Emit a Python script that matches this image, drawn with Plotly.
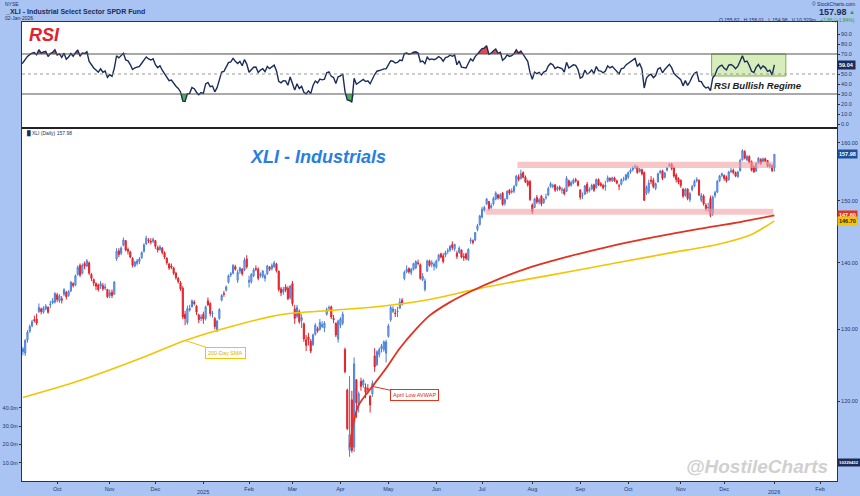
import numpy as np
import pandas as pd
import plotly.graph_objects as go

# ---------------- trading calendar ----------------
holidays = ["2024-09-02", "2024-11-28", "2024-12-25", "2025-01-01", "2025-01-09", "2025-01-20",
            "2025-02-17", "2025-04-18", "2025-05-26", "2025-06-19", "2025-07-04", "2025-09-01",
            "2025-11-27", "2025-12-25", "2026-01-01", "2026-01-19", "2026-02-16"]
cal = pd.bdate_range("2024-08-12", "2026-02-27")
cal = cal[~cal.isin(pd.to_datetime(holidays))]
dates = [d.strftime("%Y-%m-%d") for d in cal]
first_visible = "2024-09-10"
pos0 = dates.index(first_visible)
xpos = {d: i - pos0 for i, d in enumerate(dates)}

# ---------------- daily OHLC (Aug-12-2024 .. Jan-02-2026) ----------------
opens = [
    121.8,122.9,124.8,126.2,127.0,127.4,128.1,127.9,128.6,127.9,129.6,129.1,129.3,129.0,129.7,129.8,127.0,127.2,126.6,125.4,
    126.8,126.6,128.5,129.7,130.5,131.4,131.5,132.6,133.0,132.5,133.0,133.2,133.6,133.9,134.0,
    135.1,134.2,134.5,135.2,135.5,135.0,135.7,136.8,136.6,138.2,139.6,138.4,139.9,139.5,140.0,138.2,137.4,136.8,136.6,136.4,136.5,136.1,135.9,
    135.0,135.5,135.2,140.6,141.9,141.5,142.8,143.5,142.1,141.7,140.7,139.5,139.9,140.2,140.8,141.8,143.0,143.6,143.4,143.4,
    143.5,142.4,142.1,142.3,141.6,140.7,139.8,139.5,139.2,138.4,137.6,136.9,136.1,132.2,131.0,132.8,133.3,134.0,133.4,132.1,131.6,
    132.2,131.6,134.2,133.8,132.3,131.6,129.9,131.6,134.3,135.3,135.8,137.0,138.1,138.4,139.4,137.3,138.7,139.0,138.9,140.6,
    137.0,137.1,138.0,139.1,139.0,138.0,137.9,137.6,138.3,139.3,139.1,139.4,139.8,138.7,136.0,135.5,136.3,136.1,134.7,
    136.8,133.0,131.9,132.6,131.3,130.8,128.5,128.9,128.3,127.8,129.3,130.1,130.0,130.4,130.2,132.2,133.1,133.3,131.6,130.9,128.6,
    130.6,130.9,127.1,121.5,113.6,120.2,114.0,122.9,119.6,122.7,122.2,121.9,121.7,120.7,121.0,126.2,125.0,126.4,127.2,127.1,126.6,
    129.0,131.4,132.6,132.4,132.6,133.1,134.3,137.6,138.6,139.1,138.5,139.0,139.2,140.0,139.7,137.4,135.9,138.7,140.3,139.8,139.5,
    139.3,140.4,141.4,141.1,141.2,141.8,142.0,142.9,142.2,141.5,141.6,142.0,141.0,141.4,140.5,143.5,143.5,143.6,145.3,146.1,
    147.3,148.5,149.5,149.9,148.9,149.5,150.3,151.0,150.4,151.3,149.6,150.4,151.8,151.5,151.6,152.6,154.1,153.8,154.8,154.0,153.3,153.3,
    149.3,148.9,150.6,149.8,150.8,149.7,150.6,151.0,152.4,152.4,152.7,151.9,152.3,151.8,151.9,151.6,153.4,152.6,153.0,153.6,153.3,
    151.8,150.9,151.1,152.8,151.7,152.0,152.7,152.2,153.6,152.9,152.6,152.4,153.3,153.8,153.4,153.9,153.4,152.5,152.8,153.7,153.6,
    154.0,154.9,155.3,155.7,155.8,155.0,155.3,154.8,151.3,151.6,153.5,153.5,152.1,153.2,154.8,155.1,154.0,155.2,156.0,156.3,155.6,154.4,153.8,
    153.5,152.0,150.9,152.0,150.2,151.9,152.5,153.4,153.5,150.1,150.8,149.3,148.9,150.4,147.9,150.9,151.5,153.4,154.3,
    154.3,154.0,153.6,155.0,155.2,154.8,154.1,155.1,157.0,158.5,157.0,157.6,156.7,155.8,155.1,156.5,157.1,156.7,157.2,156.9,155.8,156.0,
    155.62]
highs = [
    122.9,124.8,125.6,127.3,127.6,128.5,128.3,128.7,128.8,129.8,129.9,129.6,129.5,129.6,130.4,129.9,127.7,127.5,126.9,126.8,
    127.5,128.6,129.9,130.7,131.4,132.0,132.3,133.8,133.2,133.4,133.7,133.4,134.2,134.6,135.5,
    135.4,135.2,134.9,136.1,135.7,135.8,137.2,137.0,138.2,139.6,139.9,139.9,140.2,140.6,140.2,138.4,137.6,137.0,136.8,137.2,136.9,136.8,136.0,
    135.9,135.9,137.2,142.3,142.3,142.6,144.0,143.6,142.4,141.9,140.9,140.3,140.6,140.9,141.8,143.1,144.3,143.9,143.9,144.0,
    143.6,142.7,142.8,142.5,141.8,140.9,140.0,139.9,139.4,138.6,137.8,137.2,136.4,132.7,133.5,133.6,134.4,134.3,133.6,132.3,132.2,
    132.6,133.5,134.7,134.0,132.7,131.8,131.4,133.1,135.2,135.7,136.5,138.2,138.6,139.8,139.7,138.9,139.4,139.2,140.8,141.2,
    138.0,138.4,139.2,139.6,139.3,138.5,138.9,138.3,139.7,139.5,139.9,140.3,140.0,138.8,136.3,136.3,136.7,136.4,136.6,
    137.2,133.6,133.6,132.9,132.2,131.0,129.2,129.5,128.6,129.4,130.9,130.4,131.5,131.2,131.2,133.2,133.5,133.5,132.1,131.0,131.4,
    131.8,132.6,127.4,121.7,123.4,121.4,126.0,123.0,121.3,123.2,123.0,122.4,122.3,120.8,122.8,127.3,127.0,127.4,127.9,128.4,128.5,
    130.8,133.5,133.4,133.0,133.3,134.6,134.6,138.8,139.6,139.3,139.2,140.0,140.4,140.5,139.9,138.4,137.6,140.5,140.5,140.4,140.1,
    140.5,141.4,141.6,141.5,141.9,142.3,142.8,143.4,143.0,141.9,142.6,142.1,141.5,141.6,142.3,144.0,143.7,144.9,146.2,147.7,
    149.0,149.2,150.5,150.0,149.6,150.7,151.6,151.2,151.3,151.5,150.5,151.8,152.0,152.1,152.7,154.4,154.5,155.3,155.0,154.3,153.6,153.5,
    149.6,150.5,151.0,150.5,151.0,150.5,151.2,152.4,153.2,152.9,152.8,152.5,152.6,152.3,152.2,154.2,153.6,153.4,153.8,153.9,153.5,
    152.0,151.4,152.7,153.2,152.3,152.9,152.9,153.8,153.8,153.2,152.9,153.4,154.3,154.0,154.1,154.1,153.6,152.9,153.8,154.1,154.6,
    155.0,155.5,155.9,156.2,156.0,155.6,155.5,155.0,152.6,153.6,154.2,153.9,153.1,154.8,155.3,155.3,154.9,155.8,156.5,156.5,155.9,154.7,154.0,
    153.6,152.1,152.2,152.1,151.5,152.7,153.6,154.0,153.6,151.3,151.1,149.6,149.7,150.9,150.9,151.7,153.5,154.4,154.8,
    154.5,154.3,155.1,155.6,155.5,155.0,155.1,157.2,158.9,158.7,157.9,157.8,156.9,156.1,156.6,157.5,157.3,157.4,157.4,157.0,156.4,156.2,
    158.01]
lows = [
    121.5,122.7,124.4,126.0,126.7,127.2,127.4,127.7,127.2,127.8,129.0,128.7,128.4,128.8,129.3,127.1,126.6,126.1,124.5,125.3,
    126.3,126.2,128.1,129.5,130.3,131.0,130.6,132.4,132.2,132.3,132.8,132.3,133.1,133.7,133.8,
    134.0,133.9,133.8,134.9,134.4,134.8,135.5,136.2,136.4,138.0,137.8,138.2,139.0,139.3,138.1,137.2,136.4,135.8,135.6,136.0,135.7,135.8,134.6,
    134.6,134.6,135.1,140.3,140.9,141.2,142.6,141.8,141.3,140.7,139.3,139.3,139.6,139.8,140.6,141.6,142.8,143.1,142.9,143.1,
    142.2,141.6,141.9,141.3,140.6,139.7,138.9,139.0,138.1,137.4,136.8,135.7,131.5,130.6,130.7,132.6,133.2,133.5,132.1,130.9,131.2,
    130.8,131.3,133.4,131.9,131.7,130.0,129.6,131.4,134.1,134.8,135.6,136.8,137.8,138.2,138.8,136.9,138.3,138.0,138.7,139.1,
    136.2,136.8,137.8,138.7,137.3,137.7,137.6,137.1,138.1,138.7,138.8,139.2,138.5,135.6,134.9,135.1,135.5,134.3,134.4,
    133.4,130.8,131.6,130.8,130.2,128.2,126.9,127.7,126.6,127.6,129.1,129.5,129.8,130.2,129.6,132.0,132.7,131.5,130.9,128.9,128.1,
    130.2,130.6,123.8,116.2,112.8,113.3,113.4,117.8,118.5,121.4,121.8,120.4,121.0,118.5,120.6,124.0,124.8,126.0,126.7,126.8,125.3,
    128.8,131.1,132.4,131.8,131.8,133.0,133.5,137.3,138.4,138.3,138.1,138.8,139.0,139.6,137.4,137.2,135.6,138.6,139.4,139.3,138.8,
    139.1,140.2,140.7,139.9,140.9,141.4,141.7,142.0,141.8,140.6,141.4,140.7,140.3,140.4,140.3,143.0,142.9,143.4,145.0,145.9,
    147.1,148.2,149.3,148.4,148.6,149.2,150.1,150.2,150.2,149.2,149.2,150.2,151.0,151.2,151.3,152.4,153.3,153.6,153.8,153.0,152.4,150.0,
    147.8,148.8,149.5,149.4,149.1,149.5,150.2,150.8,152.2,152.1,151.5,151.6,151.7,151.2,150.9,151.5,152.3,152.4,152.8,153.1,152.4,
    150.2,150.3,151.0,151.2,151.4,151.8,151.5,152.1,152.5,152.4,151.9,151.7,153.1,153.2,153.2,153.2,152.8,151.8,152.6,153.3,153.4,
    153.7,154.6,155.0,155.4,154.6,154.8,154.3,150.0,151.0,151.2,152.8,152.1,151.8,153.1,154.5,153.5,153.8,155.0,155.8,155.2,153.9,153.1,152.8,
    152.2,150.5,150.7,150.1,149.8,151.6,152.3,153.1,150.8,149.8,149.2,148.3,148.2,147.3,147.5,150.5,151.3,153.2,154.0,
    153.4,153.1,153.4,154.7,154.5,154.0,153.9,155.0,156.9,157.1,156.8,156.4,155.0,154.8,154.9,156.3,156.2,156.6,156.6,155.7,155.5,154.9,
    154.98]
closes = [
    122.5,124.5,125.0,127.0,127.3,128.3,127.8,128.5,127.5,129.5,129.3,129.2,128.9,129.4,130.2,127.4,127.1,126.4,124.9,126.6,
    127.2,128.4,129.6,130.4,131.1,131.3,130.9,133.2,132.6,133.1,133.4,132.5,133.7,134.2,135.3,
    134.4,134.9,134.3,135.9,134.8,135.6,137.0,136.5,138.0,139.3,138.1,139.6,139.5,140.3,138.4,137.6,136.9,136.4,135.9,136.8,136.0,136.3,134.8,
    135.4,135.0,137.0,141.8,141.3,142.3,143.6,142.0,141.8,140.9,139.6,140.1,140.3,140.6,141.6,142.8,143.9,143.5,143.3,143.7,
    142.6,142.0,142.5,141.6,140.9,140.0,139.2,139.3,138.4,137.7,137.1,136.0,131.8,131.6,133.0,133.1,134.2,133.8,132.5,131.4,131.8,
    131.5,133.3,133.6,132.3,132.4,130.4,131.2,132.9,135.0,135.2,136.3,138.0,138.3,139.6,139.0,138.5,139.2,138.3,140.4,139.4,
    137.3,138.2,138.9,139.0,137.6,138.3,138.7,138.0,139.5,139.0,139.6,140.0,138.8,135.9,135.4,135.9,135.8,134.5,136.4,
    133.8,131.6,133.2,131.1,131.7,128.6,127.7,128.5,126.9,129.2,130.6,129.8,131.0,130.7,130.9,132.9,133.2,131.8,131.4,129.2,131.2,
    131.5,132.2,124.0,116.4,115.6,113.6,125.1,119.8,121.0,122.0,122.8,121.2,121.6,119.5,122.4,124.7,126.8,127.1,127.6,128.2,128.2,
    130.5,133.2,133.0,132.3,132.7,134.0,133.8,138.5,139.0,138.6,139.0,139.9,140.2,139.9,137.6,137.9,137.2,140.3,139.6,140.0,139.8,
    140.3,141.2,140.9,140.2,141.6,141.9,142.6,142.4,142.9,141.0,142.3,140.9,140.8,140.7,142.1,143.6,143.2,144.8,145.9,147.5,
    148.6,148.9,150.3,148.7,149.2,150.4,151.3,150.5,151.0,149.4,150.2,151.6,151.3,151.6,152.4,154.2,153.6,154.6,154.0,153.2,152.7,150.2,
    148.2,150.3,149.8,150.2,149.5,150.3,150.6,152.1,152.9,152.6,151.8,152.2,152.0,151.9,151.2,153.8,152.6,153.1,153.5,153.4,152.6,
    150.6,150.9,152.5,151.6,151.9,152.6,151.8,153.6,152.7,152.6,152.2,152.6,153.9,153.5,153.9,153.4,153.0,152.5,153.6,153.7,154.4,
    154.8,155.2,155.6,155.9,154.8,155.4,154.6,150.1,152.3,153.0,153.3,152.4,152.9,154.6,155.0,153.8,154.7,155.6,156.2,155.5,154.2,153.6,153.2,
    152.6,150.8,151.9,150.4,151.2,152.4,153.3,153.6,151.0,150.9,149.5,148.7,148.9,147.6,150.6,151.4,153.3,154.2,154.6,
    153.8,153.4,154.9,155.1,154.8,154.2,154.9,156.9,158.6,157.3,157.6,156.6,155.2,154.9,156.4,157.3,156.3,157.2,156.8,155.9,156.2,155.12,
    157.98]
last_volume = 10329432
prev_close = 155.12

# 200-day SMA
sma_dates = ["2024-09-10", "2024-10-15", "2024-11-20", "2024-12-19", "2025-01-23", "2025-02-25",
             "2025-03-27", "2025-04-28", "2025-05-28", "2025-06-27", "2025-07-29", "2025-08-28",
             "2025-09-29", "2025-10-28", "2025-11-25", "2025-12-17", "2026-01-02"]
sma_vals = [120.5, 122.8, 125.8, 128.4, 130.5, 132.2, 132.8, 133.4, 134.4, 136.0, 137.4, 138.8,
            140.2, 141.6, 142.9, 144.5, 146.7]

# Anchored VWAP from April low
avwap_dates = ["2025-04-07", "2025-04-09", "2025-04-11", "2025-04-22", "2025-04-30", "2025-05-08",
               "2025-05-19", "2025-05-28", "2025-06-10", "2025-06-24", "2025-07-14", "2025-07-31",
               "2025-08-25", "2025-09-19", "2025-10-14", "2025-11-13", "2025-12-10", "2026-01-02"]
avwap_vals = [114.0, 117.5, 119.5, 122.0, 124.5, 127.3, 130.0, 132.0, 134.0, 135.6, 137.6, 139.3,
              141.0, 142.6, 143.9, 145.4, 146.5, 147.6]

# Support / resistance bands
band_upper = [155.6, 156.7]
band_upper_start = "2025-07-24"
band_lower = [147.7, 148.7]
band_lower_start = "2025-07-03"
band_end = "2025-12-31"

# RSI regime box
rsi_box = [48, 70]
rsi_box_dates = ["2025-11-20", "2026-01-09"]

tick_months = ["2024-10", "2024-11", "2024-12", "2025-01", "2025-02", "2025-03", "2025-04", "2025-05",
               "2025-06", "2025-07", "2025-08", "2025-09", "2025-10", "2025-11", "2025-12", "2026-01", "2026-02"]
tick_labels = ["Oct", "Nov", "Dec", "", "Feb", "Mar", "Apr", "May", "Jun", "Jul", "Aug", "Sep",
               "Oct", "Nov", "Dec", "", "Feb"]
year_labels = {"2025-01": "2025", "2026-01": "2026"}
price_ticks = [120, 130, 140, 150, 160]
rsi_ticks = [0, 10, 20, 30, 40, 50, 70, 80, 90]
vol_ticks = [10e6, 20e6, 30e6, 40e6]

# ---------------- derived ----------------
nbar = len(closes)
bar_x = [xpos[d] for d in dates[:nbar]]
tick_x = [xpos[next(d for d in dates if d.startswith(m))] for m in tick_months]

c = np.array(closes, dtype=float)
dlt = np.diff(c)
gain = np.where(dlt > 0, dlt, 0.0)
loss = np.where(dlt < 0, -dlt, 0.0)
N = 14
rsi = [None] * nbar
ag, al = gain[:N].mean(), loss[:N].mean()
rsi[N] = 100 - 100 / (1 + ag / al)
for i in range(N + 1, nbar):
    ag = (ag * (N - 1) + gain[i - 1]) / N
    al = (al * (N - 1) + loss[i - 1]) / N
    rsi[i] = 100 - 100 / (1 + ag / al) if al > 0 else 100.0
rx = [bar_x[i] for i in range(nbar) if rsi[i] is not None]
rv = [rsi[i] for i in range(nbar) if rsi[i] is not None]

# ---------------- geometry helpers (paper coords) ----------------
W, H = 860, 496
ML, MR, MT, MB = 22, 23, 22, 15
PW, PH = W - ML - MR, H - MT - MB
def px(x):
    return (x - ML) / PW
def py(y):
    return (H - MB - y) / PH

FONT = "Liberation Sans, Arial, sans-serif"
AXC = "#22386a"
BG = "#a9c4f2"

fig = go.Figure()

# RSI fills and line
fig.add_trace(go.Scatter(x=rx, y=[70] * len(rv), mode="lines", line=dict(width=0), xaxis="x", yaxis="y",
                         hoverinfo="skip", showlegend=False))
fig.add_trace(go.Scatter(x=rx, y=[max(v, 70) for v in rv], mode="lines", line=dict(width=0), fill="tonexty",
                         fillcolor="rgba(226,40,50,0.85)", xaxis="x", yaxis="y", hoverinfo="skip", showlegend=False))
fig.add_trace(go.Scatter(x=rx, y=[30] * len(rv), mode="lines", line=dict(width=0), xaxis="x", yaxis="y",
                         hoverinfo="skip", showlegend=False))
fig.add_trace(go.Scatter(x=rx, y=[min(v, 30) for v in rv], mode="lines", line=dict(width=0), fill="tonexty",
                         fillcolor="rgba(60,170,60,0.9)", xaxis="x", yaxis="y", hoverinfo="skip", showlegend=False))
fig.add_trace(go.Scatter(x=rx, y=rv, mode="lines", line=dict(color="#1b2c5a", width=1.4), xaxis="x", yaxis="y",
                         showlegend=False, name="RSI"))

# bands on price panel
for lo_hi, start in [(band_upper, band_upper_start), (band_lower, band_lower_start)]:
    x0, x1 = xpos[start] - 0.5, xpos[band_end] + 0.5
    fig.add_trace(go.Scatter(x=[x0, x1, x1, x0, x0], y=[lo_hi[0], lo_hi[0], lo_hi[1], lo_hi[1], lo_hi[0]],
                             mode="lines", line=dict(width=0), fill="toself",
                             fillcolor="rgba(240,160,165,0.6)", xaxis="x2", yaxis="y2",
                             hoverinfo="skip", showlegend=False))

# volume axis holder (invisible)
fig.add_trace(go.Scatter(x=[bar_x[-1]], y=[last_volume], mode="markers", marker=dict(opacity=0),
                         xaxis="x2", yaxis="y3", hoverinfo="skip", showlegend=False))

# SMA and AVWAP
fig.add_trace(go.Scatter(x=[xpos[d] for d in sma_dates], y=sma_vals, mode="lines",
                         line=dict(color="#f4c400", width=1.6, shape="spline", smoothing=0.8),
                         xaxis="x2", yaxis="y2", showlegend=False, name="200-Day SMA"))
fig.add_trace(go.Scatter(x=[xpos[d] for d in avwap_dates], y=avwap_vals, mode="lines",
                         line=dict(color="#e2331f", width=1.8, shape="spline", smoothing=0.8),
                         xaxis="x2", yaxis="y2", showlegend=False, name="April Low AVWAP"))

# candles
fig.add_trace(go.Candlestick(x=bar_x, open=opens, high=highs, low=lows, close=closes,
                             xaxis="x2", yaxis="y2", whiskerwidth=0,
                             increasing=dict(line=dict(color="#4a7fd8", width=1), fillcolor="#a9c3f0"),
                             decreasing=dict(line=dict(color="#e3232c", width=1), fillcolor="#e3232c"),
                             showlegend=False, name="XLI"))

xr = [-0.4, 356.4]
lp, hp = 109.8, 162.5
shapes = [
    dict(type="line", xref="x domain", yref="y", x0=0, x1=1, y0=70, y1=70, line=dict(color="#555", width=1)),
    dict(type="line", xref="x domain", yref="y", x0=0, x1=1, y0=30, y1=30, line=dict(color="#555", width=1)),
    dict(type="line", xref="x domain", yref="y", x0=0, x1=1, y0=50, y1=50, line=dict(color="#999", width=1, dash="dot")),
    dict(type="rect", xref="x", yref="y", x0=xpos[rsi_box_dates[0]] + 0.5, x1=xpos[rsi_box_dates[1]],
         y0=rsi_box[0], y1=rsi_box[1], fillcolor="rgba(175,220,120,0.5)", line=dict(color="#7cb342", width=1),
         layer="below"),
    dict(type="line", xref="paper", yref="paper", x0=0, x1=1, y0=py(128), y1=py(128), line=dict(color="#222", width=2)),
]

ann = []
def txt(x, y, s, size, color="#1b2c5a", xanchor="left", bold=False, italic=False, **kw):
    t = s
    if italic:
        t = "<i>" + t + "</i>"
    if bold:
        t = "<b>" + t + "</b>"
    d = dict(x=px(x), y=py(y), xref="paper", yref="paper", text=t, showarrow=False, xanchor=xanchor,
             yanchor="middle", font=dict(family=FONT, size=size, color=color))
    d.update(kw)
    ann.append(d)

# header
txt(3, 4, "NYSE", 5)
txt(3, 11, "_XLI - Industrial Select Sector SPDR Fund", 7, bold=True)
txt(3, 18, "02-Jan-2026", 5)
txt(857, 4, "© StockCharts.com", 5, xanchor="right")
txt(849, 12, "%.2f" % closes[-1], 9, xanchor="right", bold=True)
txt(857, 12, "▲", 6, color="#2e9e3e", xanchor="right")
chg = closes[-1] - prev_close
txt(857, 20, "+%.2f (+%.2f%%)" % (chg, chg / prev_close * 100), 5, color="#2e9e3e", xanchor="right")
txt(818, 20, "O %.2f   H %.2f   L %.2f   V %.3fm" % (opens[-1], highs[-1], lows[-1], last_volume / 1e6), 5,
    xanchor="right")

# year labels under January ticks
for m, lab in year_labels.items():
    xi = tick_x[tick_months.index(m)]
    ann.append(dict(x=xi, y=py(492), xref="x2", yref="paper", text=lab, showarrow=False, xanchor="center",
                    yanchor="middle", font=dict(family=FONT, size=5.5, color=AXC)))

# panel titles
txt(27, 35, "RSI", 18, color="#e3202b", bold=True, italic=True)
txt(318, 157, "XLI - Industrials", 18, color="#2a7de1", xanchor="center", bold=True, italic=True)
txt(830, 466, "@HostileCharts", 19, color="#d0d0d0", xanchor="right", bold=True, italic=True)
txt(25, 134, "<span style='color:#1b2c5a'>█</span> XLI (Daily) %.2f" % closes[-1], 5)

# RSI regime label
ann.append(dict(x=xpos["2025-12-22"], y=39, xref="x", yref="y", text="<b><i>RSI Bullish Regime</i></b>",
                showarrow=False, font=dict(family=FONT, size=9.5, color="#1e1e1e")))

# callouts
ann.append(dict(x=xpos["2024-12-19"], y=np.log10(sma_vals[3]), xref="x2", yref="y2", text="200-Day SMA",
                showarrow=True, arrowhead=0, arrowwidth=1, arrowcolor="#f4c400", ax=40, ay=13,
                bgcolor="white", bordercolor="#f4c400", borderwidth=1, borderpad=2,
                font=dict(family=FONT, size=5.5, color="#e0b000")))
ann.append(dict(x=xpos["2025-04-22"], y=np.log10(avwap_vals[3]), xref="x2", yref="y2", text="April Low AVWAP",
                showarrow=True, arrowhead=0, arrowwidth=1, arrowcolor="#e2331f", ax=42, ay=9,
                bgcolor="white", bordercolor="#e2331f", borderwidth=1, borderpad=2,
                font=dict(family=FONT, size=5.5, color="#d42a1a")))

# right axis value tags
def tag(yv, yref, s, bg, fg="white", size=5.5):
    ann.append(dict(x=1.0, y=yv, xref="paper", yref=yref, text="<b>%s</b>" % s, showarrow=False,
                    xanchor="left", yanchor="middle", bgcolor=bg, borderpad=1,
                    font=dict(family=FONT, size=size, color=fg)))
tag(np.log10(closes[-1]), "y2", "%.2f" % closes[-1], "#1f4f9a")
tag(np.log10(avwap_vals[-1]), "y2", "%.2f" % avwap_vals[-1], "#e2331f")
tag(np.log10(sma_vals[-1]), "y2", "%.2f" % sma_vals[-1], "#f4c400", "#222")
tag(rv[-1], "y", "%.2f" % rv[-1], "#1b2c5a")
tag(last_volume, "y3", "%d" % last_volume, "#1b2c5a", size=4.3)

axis_common = dict(showgrid=False, zeroline=False, showline=True, mirror=True, linecolor="#333", linewidth=1,
                   automargin=False, tickfont=dict(family=FONT, size=5.5, color=AXC))

fig.update_layout(
    width=W, height=H, autosize=False,
    margin=dict(l=ML, r=MR, t=MT, b=MB, pad=0, autoexpand=False),
    paper_bgcolor=BG, plot_bgcolor="white",
    showlegend=False, hovermode=False,
    xaxis=dict(domain=[0, 1], anchor="y", range=xr, showticklabels=False, ticks="", **axis_common),
    yaxis=dict(domain=[py(127), 1], anchor="x", range=[-3, 102], side="right", tickvals=rsi_ticks,
               ticktext=["%.1f" % v for v in rsi_ticks], ticks="outside", ticklen=2, tickcolor="#333",
               **axis_common),
    xaxis2=dict(domain=[0, 1], anchor="y2", range=xr, tickvals=tick_x, ticktext=tick_labels,
                ticks="outside", ticklen=2, tickcolor="#333", rangeslider=dict(visible=False), **axis_common),
    yaxis2=dict(domain=[0, py(129)], anchor="x2", type="log", range=[np.log10(lp), np.log10(hp)], side="right",
                tickvals=price_ticks, ticktext=["%.2f" % v for v in price_ticks], ticks="outside", ticklen=2,
                tickcolor="#333", **axis_common),
    yaxis3=dict(overlaying="y2", anchor="x2", side="left", range=[0, 192e6], tickvals=vol_ticks,
                ticktext=["%.1fm" % (v / 1e6) for v in vol_ticks], ticks="outside", ticklen=2, tickcolor="#333",
                showgrid=False, zeroline=False, showline=False, automargin=False,
                tickfont=dict(family=FONT, size=5.5, color=AXC)),
    shapes=shapes,
    annotations=ann,
)

fig.write_html("out.html", post_script="document.body.style.margin='0';document.body.style.padding='0';")
